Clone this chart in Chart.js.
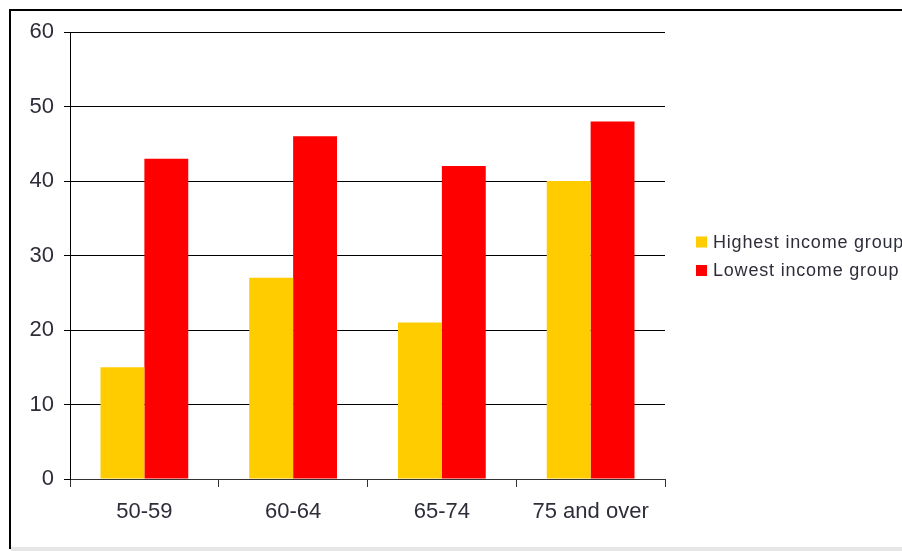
<!DOCTYPE html>
<html>
<head>
<meta charset="utf-8">
<script src="https://cdn.jsdelivr.net/npm/chart.js@4/dist/chart.umd.min.js"></script>
<style>
  html, body { margin: 0; padding: 0; width: 902px; height: 551px; overflow: hidden; background: #fff; }
  #frame { position: absolute; left: 9px; top: 9px; width: 1000px; height: 540px;
           border-left: 2px solid #000; border-top: 2px solid #000; box-sizing: border-box; }
  #strip { position: absolute; left: 11px; top: 547px; width: 900px; height: 4px; background: #e6e6e6; }
  #wrap { position: absolute; left: 0; top: 0; width: 960px; height: 551px; }
</style>
</head>
<body>
<div id="frame"></div>
<div id="strip"></div>
<div id="wrap"><canvas id="c" width="960" height="551"></canvas></div>
<script>
// Age groups and the share (%) in each income group
const categories = ['50-59', '60-64', '65-74', '75 and over'];
const highestIncome = [15, 27, 21, 40];
const lowestIncome = [43, 46, 42, 48];
const seriesNames = ['Highest income group', 'Lowest income group'];
const yTicks = [0, 10, 20, 30, 40, 50, 60];

const textColor = '#2e2e3a';
const fontFamily = '"Liberation Sans", Arial, sans-serif';

// Legend drawn beside the plot from the dataset labels and colours
const sideLegend = {
  id: 'sideLegend',
  afterDraw(chart) {
    const ctx = chart.ctx;
    const x0 = chart.chartArea.right + 31;
    const yStart = 242;
    const step = 28.5;
    ctx.save();
    ctx.font = '18px ' + fontFamily;
    ctx.textBaseline = 'middle';
    ctx.textAlign = 'left';
    if ('letterSpacing' in ctx) ctx.letterSpacing = '0.8px';
    chart.data.datasets.forEach((ds, i) => {
      const y = yStart + i * step;
      ctx.fillStyle = ds.backgroundColor;
      ctx.fillRect(x0, y - 5.5, 11, 11);
      ctx.fillStyle = textColor;
      ctx.fillText(ds.label, x0 + 17, y + 1);
    });
    ctx.restore();
  }
};

new Chart(document.getElementById('c'), {
  type: 'bar',
  data: {
    labels: categories,
    datasets: [
      { label: seriesNames[0], data: highestIncome, backgroundColor: '#FFCC00', borderWidth: 0 },
      { label: seriesNames[1], data: lowestIncome, backgroundColor: '#FF0000', borderWidth: 0 }
    ]
  },
  options: {
    responsive: false,
    animation: false,
    events: [],
    layout: { padding: { top: 32, right: 295, left: 0, bottom: 0 } },
    datasets: { bar: { categoryPercentage: 0.59, barPercentage: 1.0 } },
    plugins: { legend: { display: false }, tooltip: { enabled: false } },
    scales: {
      x: {
        offset: true,
        grid: { offset: true, drawOnChartArea: false, drawTicks: true, tickLength: 8, color: '#333', lineWidth: 1 },
        border: { display: true, color: '#333', width: 1 },
        ticks: { color: textColor, font: { family: fontFamily, size: 22 }, padding: 12, maxRotation: 0 },
        afterFit(scale) { scale.height = 72; }
      },
      y: {
        min: 0,
        max: 60,
        afterBuildTicks(scale) { scale.ticks = yTicks.map(v => ({ value: v })); },
        grid: { color: '#000', lineWidth: 1, tickLength: 6 },
        border: { display: true, color: '#000', width: 1 },
        ticks: { color: textColor, font: { family: fontFamily, size: 22 }, padding: 10 },
        afterFit(scale) { scale.width = 70; }
      }
    }
  },
  plugins: [sideLegend]
});
</script>
</body>
</html>
